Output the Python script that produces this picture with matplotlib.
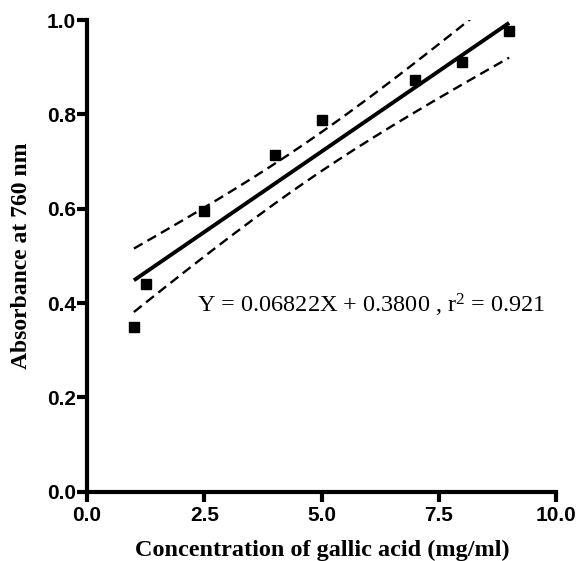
import numpy as np
import matplotlib
matplotlib.use("Agg")
import matplotlib.pyplot as plt

plt.rcParams["mathtext.fontset"] = "custom"
plt.rcParams["mathtext.rm"] = "Liberation Serif"
plt.rcParams["mathtext.it"] = "Liberation Serif:italic"

# Gallic acid standard curve
conc = np.array([1.0, 1.25, 2.5, 4.0, 5.0, 7.0, 8.0, 9.0])
absorb = np.array([0.349, 0.440, 0.595, 0.714, 0.788, 0.873, 0.911, 0.977])
slope = 0.06822
intercept = 0.3800
r2 = 0.921
xticks = [0.0, 2.5, 5.0, 7.5, 10.0]
yticks = [0.0, 0.2, 0.4, 0.6, 0.8, 1.0]

fig = plt.figure(figsize=(5.79, 5.61), dpi=100)
ax = fig.add_axes([0.1503, 0.1235, 0.810, 0.8408])

# Regression line with 90% confidence band
xs = np.linspace(conc.min(), conc.max(), 200)
fit = intercept + slope * xs
n = len(conc)
resid = absorb - (intercept + slope * conc)
s = np.sqrt(np.sum(resid ** 2) / (n - 2))
sxx = np.sum((conc - conc.mean()) ** 2)
t = 1.943
half = t * s * np.sqrt(1.0 / n + (xs - conc.mean()) ** 2 / sxx)

dash = (0, (4.2, 2.4))
ax.plot(xs, fit, color="black", lw=2.8, solid_capstyle="butt")
ax.plot(xs, fit + half, color="black", lw=1.7, ls=dash)
ax.plot(xs, fit - half, color="black", lw=1.7, ls=dash)
ax.plot(conc, absorb, ls="none", marker="s", ms=6.5, color="black", clip_on=False)

ax.text(2.35, 0.396, f"Y = {slope:.5f}X + {intercept:.4f} , r$^2$ = {r2:.3f}",
        family="Liberation Serif", fontsize=17.5, va="center", ha="left")

ax.set_xlim(0, 10)
ax.set_ylim(0, 1.0)
ax.set_xticks(xticks)
ax.set_yticks(yticks)
ax.set_xticklabels([f"{v:.1f}" for v in xticks])
ax.set_yticklabels([f"{v:.1f}" for v in yticks])
for side in ("top", "right"):
    ax.spines[side].set_visible(False)
for side in ("left", "bottom"):
    ax.spines[side].set_linewidth(3)
ax.tick_params(width=3, length=7, labelsize=15)
ax.tick_params(axis="y", pad=1)
ax.tick_params(axis="x", pad=3)
for lab in ax.get_xticklabels() + ax.get_yticklabels():
    lab.set_family("Liberation Sans")
    lab.set_fontweight("bold")

ax.text(0.501, -0.124, "Concentration of gallic acid (mg/ml)", transform=ax.transAxes,
        family="Liberation Serif", fontweight="bold", fontsize=17.5,
        ha="center", va="center")
ax.text(-0.139, 0.50, "Absorbance at 760 nm", transform=ax.transAxes,
        family="Liberation Serif", fontweight="bold", fontsize=17,
        ha="center", va="center", rotation=90)

fig.savefig("out.png", dpi=100, facecolor="white")
